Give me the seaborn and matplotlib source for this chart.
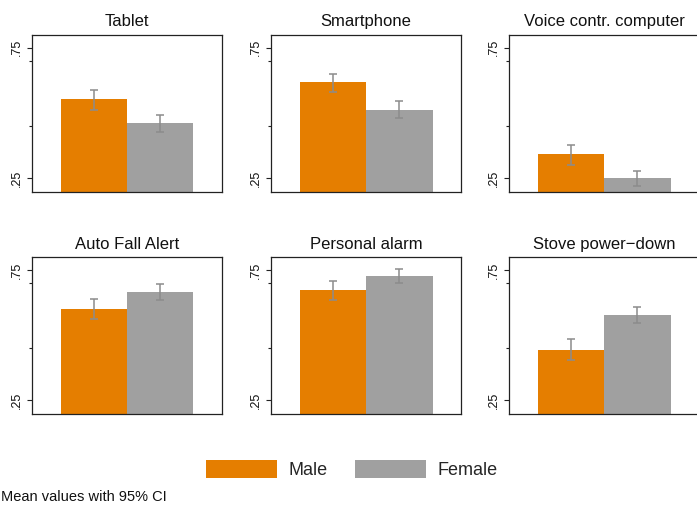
import numpy as np
import pandas as pd
import seaborn as sns
import matplotlib.pyplot as plt

## data (mean and 95% CI per device and sex)
ITEMS = ["Tablet", "Smartphone", "Voice contr. computer",
         "Auto Fall Alert", "Personal alarm", "Stove power\u2212down"]
SEXES = ["Male", "Female"]
MALE_MEAN = [0.552, 0.617, 0.341, 0.601, 0.672, 0.445]
MALE_LO = [0.512, 0.579, 0.301, 0.562, 0.636, 0.403]
MALE_HI = [0.589, 0.650, 0.378, 0.638, 0.708, 0.484]
FEMALE_MEAN = [0.460, 0.512, 0.248, 0.666, 0.726, 0.578]
FEMALE_LO = [0.426, 0.480, 0.218, 0.635, 0.701, 0.545]
FEMALE_HI = [0.490, 0.543, 0.276, 0.695, 0.753, 0.607]
YTICKS = [0.25, 0.75]
YTICK_LABELS = [".25", ".75"]
YMINOR = [0.45, 0.7]

COLORS = {"Male": "#e57e00", "Female": "#a0a0a0"}

sns.set_style("ticks")
plt.rcParams["font.family"] = ["Liberation Sans", "DejaVu Sans"]


def build_frame():
    rows = []
    for i, item in enumerate(ITEMS):
        rows.append((item, "Male", MALE_MEAN[i], MALE_LO[i], MALE_HI[i]))
        rows.append((item, "Female", FEMALE_MEAN[i], FEMALE_LO[i], FEMALE_HI[i]))
    return pd.DataFrame(rows, columns=["item", "sex", "mean", "lo", "hi"])


def create_plot(df):
    W, H = 697, 508
    fig = plt.figure(figsize=(W / 100, H / 100), dpi=100)

    col_left = [32, 271, 509]
    row_top = [34.5, 257]
    aw, ah = 190, 157.2

    for k, item in enumerate(ITEMS):
        r, c = divmod(k, 3)
        ax = fig.add_axes([col_left[c] / W, 1 - (row_top[r] + ah) / H, aw / W, ah / H])
        sub = df[df["item"] == item]
        sns.barplot(data=sub, x="item", y="mean", hue="sex", hue_order=SEXES,
                    palette=COLORS, width=0.7, errorbar=None, saturation=1,
                    linewidth=0, ax=ax, legend=(k == 0))

        # confidence intervals on top of each bar
        for patch, sex in zip(ax.patches, SEXES):
            row = sub[sub["sex"] == sex].iloc[0]
            xc = patch.get_x() + patch.get_width() / 2
            ax.errorbar(xc, row["mean"],
                        yerr=[[row["mean"] - row["lo"]], [row["hi"] - row["mean"]]],
                        fmt="none", ecolor="#8c8c8c", elinewidth=1.1,
                        capsize=3, capthick=1.1)

        ax.set_xlim(-0.5, 0.5)
        ax.set_ylim(0.197, 0.8)
        ax.set_xticks([])
        ax.set_xlabel("")
        ax.set_ylabel("")
        ax.set_yticks(YTICKS)
        ax.set_yticklabels(YTICK_LABELS, rotation=90, va="center", fontsize=9,
                           color="#111111")
        ax.set_yticks(YMINOR, minor=True)
        ax.tick_params(axis="y", which="major", length=3.5, width=0.8, pad=3,
                       color="#222222")
        ax.tick_params(axis="y", which="minor", length=2, width=0.8, color="#222222")
        for s in ax.spines.values():
            s.set_linewidth(0.9)
            s.set_color("#222222")
        ax.set_title(item, fontsize=12, pad=6, color="#111111")

        if k == 0:
            handles, labels = ax.get_legend_handles_labels()
            ax.get_legend().remove()

    fig.legend(handles, labels, loc="center", bbox_to_anchor=(352 / W, 1 - 469.5 / H),
               ncol=2, frameon=False, fontsize=13, handlelength=3.9,
               handleheight=1.15, handletextpad=0.65, columnspacing=1.55)
    fig.text(1 / W, 1 - 497 / H, "Mean values with 95% CI", fontsize=10.5,
             ha="left", va="center", color="#111111")

    plt.savefig("out.png", dpi=100)


if __name__ == "__main__":
    df = build_frame()
    create_plot(df)
